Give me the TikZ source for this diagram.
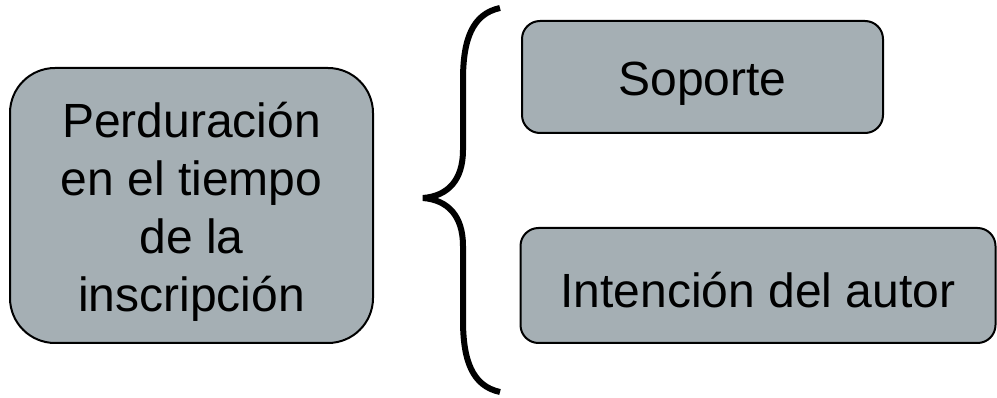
\documentclass[tikz,border=0pt]{standalone}
\usepackage{fontspec}
\setmainfont{Liberation Sans}
\definecolor{boxfill}{RGB}{165,175,180}
\newcommand{\lowertext}[2]{\raisebox{-#1}[\height][\depth]{#2}}
\begin{document}
\begin{tikzpicture}[x=1pt,y=-1pt,
  box/.style={draw=black,line width=2pt,fill=boxfill,rectangle,
    font=\fontsize{48}{58}\selectfont,inner sep=0pt},
  brace/.style={draw=black,line width=6pt,line join=bevel,line cap=butt}]
\useasboundingbox (0,0) rectangle (997,398);
\node[box,rounded corners=45pt,minimum width=363pt,minimum height=275pt] (main) at (191.5,205.5)
  {\lowertext{7pt}{\begin{tabular}{@{}c@{}}Perduración\\en el tiempo\\de la\\inscripción\end{tabular}}};
\node[box,rounded corners=18pt,minimum width=361pt,minimum height=112pt] (sop) at (702.5,77) {\lowertext{7pt}{Soporte}};
\node[box,rounded corners=18pt,minimum width=475pt,minimum height=115pt] (int) at (758,285.5) {\lowertext{5pt}{Intención del autor}};
\draw[brace] (500,8) .. controls (472,14) and (463,40) .. (463,80) -- (463,150)
  .. controls (463,180) and (448,196) .. (423,198)
  .. controls (448,200) and (463,216) .. (463,246) -- (463,320)
  .. controls (463,360) and (472,386) .. (500,392);
\end{tikzpicture}
\end{document}
